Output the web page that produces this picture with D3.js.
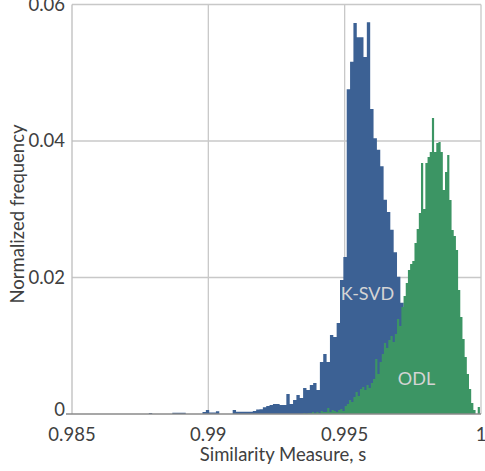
<!DOCTYPE html>
<html>
<head>
<meta charset="utf-8">
<script src="https://cdn.jsdelivr.net/npm/d3@7"></script>
<style>
  html, body { margin: 0; padding: 0; background: #fff; }
  svg { display: block; }
  text { font-family: Lato, "Open Sans", sans-serif; }
</style>
</head>
<body>
<svg id="chart" width="485" height="471"></svg>
<script>
// ---- data ----
const xTicks = [0.985, 0.99, 0.995, 1];
const xTickLabels = ["0.985", "0.99", "0.995", "1"];
const yTicks = [0, 0.02, 0.04, 0.06];
const yTickLabels = ["0", "0.02", "0.04", "0.06"];

const ksvdStart = 0.987818;
const ksvdBinWidth = 0.000123;
const ksvdValues = [
  0.00015, 0, 0, 0, 0, 0, 0,
  0.00018, 0.00018, 0.00018, 0.00018,
  0, 0, 0, 0, 0,
  0.0003, 0.0006, 0.00022, 0.00022, 0.0004,
  0, 0, 0, 0,
  0.0006, 0.00034, 0.00034, 0.00034, 0.00034, 0.00034, 0.00044, 0.00066, 0.00069, 0.00098,
  0.00117, 0.00132, 0.00147, 0.00147, 0.00132, 0.00132, 0.00293, 0.00147, 0.00205, 0.00278,
  0.00234, 0.00381, 0.00352, 0.00425, 0.00454, 0.00352, 0.00762, 0.00879, 0.00762, 0.01158,
  0.01128, 0.01333, 0.01963, 0.0230,
  0.0476, 0.0516, 0.0573, 0.0552, 0.0552, 0.0523, 0.0574, 0.0447, 0.0404, 0.0387,
  0.0363, 0.0314, 0.0296, 0.0270, 0.0237, 0.0201, 0.0163, 0.0135, 0.0105, 0.0076,
  0.0051, 0.0029, 0.0015, 0.0007, 0.0003
];

const odlStart = 0.99348;
const odlBinWidth = 0.00008;
const odlValues = [
  0.00015, 0, 0.00015, 0.00015, 0.0003, 0.00015, 0.0003, 0.00015, 0.00044, 0.0003,
  0.0003, 0.00088, 0.0003, 0.00059, 0.00044, 0.0003, 0.00059, 0.00073, 0.00044, 0.00117,
  0.00147, 0.00205, 0.00176, 0.00249, 0.00322, 0.00264, 0.00366, 0.00396, 0.00352, 0.00425,
  0.00381, 0.00454, 0.00513, 0.00806, 0.00586, 0.00762, 0.00879, 0.0104, 0.00967, 0.01084,
  0.01143, 0.01055, 0.01172, 0.01392, 0.01289, 0.01568, 0.01729, 0.01919, 0.0211, 0.02198,
  0.02242, 0.02505, 0.02711, 0.02945, 0.03678, 0.03004, 0.03678, 0.03766, 0.03839, 0.04337,
  0.03839, 0.03971, 0.03985, 0.03839, 0.03282, 0.03546, 0.03795, 0.03136, 0.02696, 0.02608,
  0.02403, 0.01817, 0.01421, 0.01099, 0.00835, 0.00586, 0.00366, 0.00161, 0.00059, 0, 0.00103
];

const seriesNames = ["K-SVD", "ODL"];
const xTitle = "Similarity Measure, s";
const yTitle = "Normalized frequency";

// ---- layout ----
const svg = d3.select("#chart");
const mLeft = 72, mRight = 481, mTop = 4.5, mBottom = 414;
const x = d3.scaleLinear().domain([0.985, 1]).range([mLeft, mRight]);
const y = d3.scaleLinear().domain([0, 0.06]).range([mBottom, mTop]);

const gridColor = "#c8c8c8";
const textColor = "#404040";

// grid
const g = svg.append("g");
g.selectAll("line.vg").data(xTicks.slice(1, -1)).join("line")
  .attr("x1", d => x(d)).attr("x2", d => x(d))
  .attr("y1", mTop).attr("y2", mBottom)
  .attr("stroke", gridColor).attr("stroke-width", 1.3);
g.selectAll("line.hg").data(yTicks.slice(1, -1)).join("line")
  .attr("x1", mLeft).attr("x2", mRight)
  .attr("y1", d => y(d)).attr("y2", d => y(d))
  .attr("stroke", gridColor).attr("stroke-width", 1.3);

// histogram as one step area per series (no seams between bins)
function drawHist(values, start, w, color) {
  const pts = values.map((v, i) => ({ e: start + i * w, v }));
  pts.push({ e: start + values.length * w, v: 0 });
  const area = d3.area()
    .curve(d3.curveStepAfter)
    .x(d => x(d.e))
    .y0(y(0))
    .y1(d => y(d.v));
  svg.append("path").datum(pts)
    .attr("d", area)
    .attr("fill", color);
}
drawHist(ksvdValues, ksvdStart, ksvdBinWidth, "#3c6194");
drawHist(odlValues, odlStart, odlBinWidth, "#3c9564");

// frame
svg.append("line").attr("x1", mLeft).attr("x2", mRight).attr("y1", mTop).attr("y2", mTop)
  .attr("stroke", gridColor).attr("stroke-width", 1.3);
svg.append("line").attr("x1", mRight).attr("x2", mRight).attr("y1", mTop).attr("y2", mBottom)
  .attr("stroke", gridColor).attr("stroke-width", 1.3);
svg.append("line").attr("x1", mLeft).attr("x2", mLeft).attr("y1", mTop).attr("y2", mBottom)
  .attr("stroke", "#bdbdbd").attr("stroke-width", 1.3);
svg.append("line").attr("x1", mLeft - 6).attr("x2", mRight).attr("y1", mBottom).attr("y2", mBottom)
  .attr("stroke", "#8a8a8a").attr("stroke-width", 1.3);

// axes labels
const fs = 18.5;
svg.append("g").selectAll("text").data(xTicks).join("text")
  .attr("x", d => x(d)).attr("y", 441)
  .attr("text-anchor", "middle")
  .attr("font-size", fs).attr("fill", textColor)
  .text((d, i) => xTickLabels[i]);
svg.append("g").selectAll("text").data(yTicks).join("text")
  .attr("x", 65).attr("y", d => y(d) - (d === 0 ? 4 : 0))
  .attr("dy", "0.35em")
  .attr("text-anchor", "end")
  .attr("font-size", fs).attr("fill", textColor)
  .text((d, i) => yTickLabels[i]);

svg.append("text").attr("x", 283).attr("y", 461)
  .attr("text-anchor", "middle").attr("font-size", fs).attr("fill", textColor)
  .text(xTitle);
svg.append("text")
  .attr("transform", "translate(24,214) rotate(-90)")
  .attr("text-anchor", "middle").attr("font-size", fs).attr("fill", textColor)
  .text(yTitle);

// series labels
svg.append("text").attr("x", 367.5).attr("y", 300)
  .attr("text-anchor", "middle").attr("font-size", 18).attr("fill", "#d4d4d4")
  .text(seriesNames[0]);
svg.append("text").attr("x", 416.5).attr("y", 385)
  .attr("text-anchor", "middle").attr("font-size", 18).attr("fill", "#d4d4d4")
  .text(seriesNames[1]);
</script>
</body>
</html>
